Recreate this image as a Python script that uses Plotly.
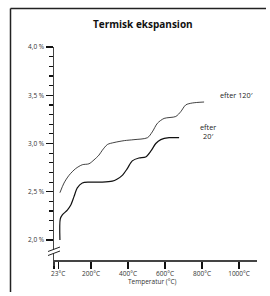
import plotly.graph_objects as go

# ---- data ----
temp_120 = [32, 54, 81, 117, 153, 189, 216, 243, 261, 289, 324, 380, 432, 505, 531, 559, 595, 658, 685, 712, 748, 811]
exp_120 = [2.49, 2.59, 2.67, 2.74, 2.78, 2.79, 2.83, 2.88, 2.93, 2.99, 3.01, 3.03, 3.04, 3.06, 3.12, 3.21, 3.26, 3.28, 3.33, 3.40, 3.42, 3.43]

temp_20 = [32, 34, 45, 72, 90, 108, 126, 153, 189, 261, 315, 340, 369, 396, 423, 459, 495, 523, 550, 577, 622, 676]
exp_20 = [2.00, 2.22, 2.26, 2.31, 2.36, 2.45, 2.54, 2.59, 2.60, 2.60, 2.61, 2.63, 2.67, 2.74, 2.82, 2.85, 2.86, 2.92, 3.00, 3.04, 3.06, 3.06]

y_tickvals = [2.0, 2.5, 3.0, 3.5, 4.0]
y_ticktext = ["2,0 %", "2,5 %", "3,0 %", "3,5 %", "4,0 %"]
y_minorvals = [2.1, 2.2, 2.3, 2.4, 2.6, 2.7, 2.8, 2.9, 3.1, 3.2, 3.3, 3.4, 3.6, 3.7, 3.8, 3.9]
x_tickvals = [0, 23, 200, 400, 600, 800, 1000]
x_ticktext = ["", "23°C", "200°C", "400°C", "600°C", "800°C", "1000°C"]

title = "Termisk ekspansion"
x_title = "Temperatur (°C)"
label_120 = "efter 120′"
label_20 = "efter<br>20′"

# ---- layout geometry ----
W, H = 270, 296
ML, MR, MT, MB = 54, 13, 47, 36
PW, PH = W - ML - MR, H - MT - MB
YMIN, YMAX = 1.793, 4.0
XMIN, XMAX = 0, 1097


def px_x(x):
    return (x - ML) / PW


def px_y(y):
    return (H - MB - y) / PH


FONT = "Open Sans"
AX = "#444444"

fig = go.Figure()
fig.add_trace(go.Scatter(x=temp_120, y=exp_120, mode="lines",
                         line=dict(color="#111111", width=0.8, shape="spline", smoothing=0.8),
                         hoverinfo="skip", showlegend=False))
fig.add_trace(go.Scatter(x=temp_20, y=exp_20, mode="lines",
                         line=dict(color="#111111", width=1.2, shape="spline", smoothing=0.8),
                         hoverinfo="skip", showlegend=False))

# outer frame (left and top edges)
fig.add_shape(type="line", xref="paper", yref="paper", x0=px_x(10.5), x1=px_x(10.5),
              y0=px_y(8.5), y1=px_y(292), layer="above", line=dict(color="#222222", width=1.5))
fig.add_shape(type="line", xref="paper", yref="paper", x0=px_x(10.5), x1=px_x(266),
              y0=px_y(8.5), y1=px_y(8.5), layer="above", line=dict(color="#222222", width=1.5))
# y axis extension below x axis
fig.add_shape(type="line", xref="paper", yref="paper", x0=0, x1=0,
              y0=px_y(266), y1=0, line=dict(color=AX, width=1.5))
# axis break: white gap + two slashes
fig.add_shape(type="line", xref="paper", yref="paper", x0=0, x1=0,
              y0=px_y(249.5), y1=px_y(253.5), line=dict(color="white", width=3))
fig.add_shape(type="line", xref="paper", yref="paper", x0=px_x(48), x1=px_x(60),
              y0=px_y(251.5), y1=px_y(247), line=dict(color="#222222", width=1))
fig.add_shape(type="line", xref="paper", yref="paper", x0=px_x(48), x1=px_x(60),
              y0=px_y(255.5), y1=px_y(251), line=dict(color="#222222", width=1))

annotations = [
    dict(text=f"<b>{title}</b>", xref="paper", yref="paper", x=px_x(143), y=px_y(24),
         showarrow=False, font=dict(family=FONT, size=10, color="#111111"),
         xanchor="center", yanchor="middle"),
    dict(text=x_title, xref="paper", yref="paper", x=px_x(152), y=px_y(281),
         showarrow=False, font=dict(family=FONT, size=6.5, color="#333333"),
         xanchor="center", yanchor="middle"),
    dict(text=label_120, x=984, y=3.50, xref="x", yref="y", showarrow=False,
         font=dict(family=FONT, size=7.3, color="#222222"), xanchor="center", yanchor="middle"),
    dict(text=label_20, x=832, y=3.12, xref="x", yref="y", showarrow=False,
         font=dict(family=FONT, size=7.3, color="#222222"), xanchor="center", yanchor="middle"),
]

fig.update_layout(
    width=W, height=H,
    margin=dict(l=ML, r=MR, t=MT, b=MB, pad=0),
    paper_bgcolor="white", plot_bgcolor="white",
    annotations=annotations,
    font=dict(family=FONT),
    xaxis=dict(range=[XMIN, XMAX], showgrid=False, zeroline=False,
               showline=True, linecolor=AX, linewidth=1.5,
               tickmode="array", tickvals=x_tickvals, ticktext=x_ticktext,
               ticks="outside", ticklen=7, tickwidth=1.2, tickcolor="#111111",
               tickfont=dict(family=FONT, size=6.5, color="#333333")),
    yaxis=dict(range=[YMIN, YMAX], showgrid=False, zeroline=False,
               showline=True, linecolor=AX, linewidth=1.5,
               tickmode="array", tickvals=y_tickvals, ticktext=y_ticktext,
               ticks="outside", ticklen=7, tickwidth=1.2, tickcolor="#111111",
               tickfont=dict(family=FONT, size=6.5, color="#333333"),
               minor=dict(tickmode="array", tickvals=y_minorvals, ticks="outside",
                          ticklen=4, tickwidth=1.2, tickcolor="#111111", showgrid=False)),
)

fig.write_html("out.html", config={"displayModeBar": False, "staticPlot": True},
               post_script="document.body.style.margin='0';")
